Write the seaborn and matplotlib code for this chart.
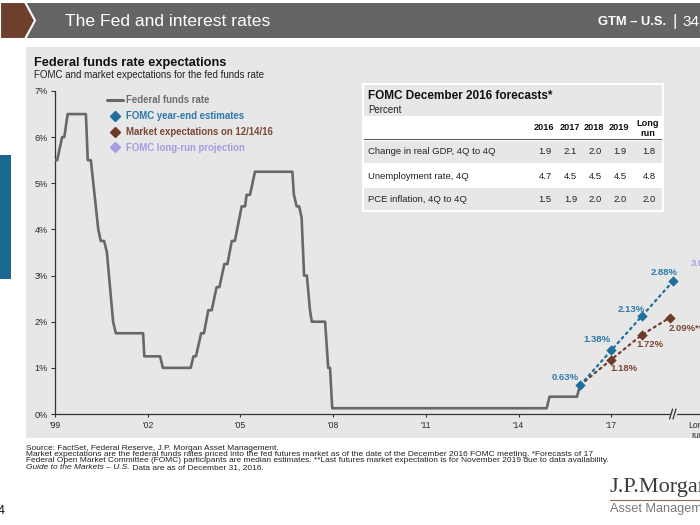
import matplotlib
matplotlib.use("Agg")
import numpy as np
import pandas as pd
import seaborn as sns
import matplotlib.pyplot as plt
from matplotlib.patches import Rectangle, Polygon
from matplotlib.lines import Line2D

# ---------------- data ----------------
ffr_t = [1999.95, 2000.02, 2000.18, 2000.25, 2000.36, 2000.95, 2001.01, 2001.11, 2001.35,
         2001.43, 2001.54, 2001.63, 2001.83, 2001.92, 2002.80, 2002.84, 2003.35, 2003.44,
         2004.34, 2004.43, 2004.51, 2004.68, 2004.77, 2004.91, 2005.02, 2005.18, 2005.27,
         2005.43, 2005.53, 2005.67, 2005.77, 2005.99, 2006.10, 2006.15, 2006.26, 2006.42,
         2007.63, 2007.68, 2007.77, 2007.85, 2007.93, 2008.01, 2008.10, 2008.20, 2008.26,
         2008.69, 2008.79, 2008.85, 2008.92, 2015.86, 2015.95, 2016.84, 2016.94]
ffr_v = [5.5, 5.5, 6.0, 6.0, 6.5, 6.5, 5.5, 5.5, 4.0,
         3.75, 3.75, 3.5, 2.0, 1.75, 1.75, 1.25, 1.25, 1.0,
         1.0, 1.25, 1.25, 1.75, 1.75, 2.25, 2.25, 2.75, 2.75,
         3.25, 3.25, 3.75, 3.75, 4.5, 4.5, 4.75, 4.75, 5.25,
         5.25, 4.75, 4.5, 4.5, 4.25, 3.0, 3.0, 2.25, 2.0,
         2.0, 1.0, 1.0, 0.125, 0.125, 0.375, 0.375, 0.625]

fomc_t = [2016.95, 2017.95, 2018.95, 2019.95]
fomc_v = [0.63, 1.38, 2.13, 2.88]
mkt_t = [2016.95, 2017.95, 2018.95, 2019.85]
mkt_v = [0.63, 1.18, 1.72, 2.09]
lr_t = [2021.2]
lr_v = [3.00]

fomc_labels = ["0.63%", "1.38%", "2.13%", "2.88%"]
mkt_labels = ["1.18%", "1.72%", "2.09%**"]
lr_labels = ["3.00%"]

xtick_pos = [1999.95, 2002.95, 2005.95, 2008.95, 2011.95, 2014.95, 2017.95, 2020.75]
xtick_labels = ["'99", "'02", "'05", "'08", "'11", "'14", "'17", "Long\nrun"]
ytick_pos = [0, 1, 2, 3, 4, 5, 6, 7]
ytick_labels = ["0%", "1%", "2%", "3%", "4%", "5%", "6%", "7%"]

table_cols = ["2016", "2017", "2018", "2019", "Long\nrun"]
table_rows = ["Change in real GDP, 4Q to 4Q", "Unemployment rate, 4Q", "PCE inflation, 4Q to 4Q"]
gdp = [1.9, 2.1, 2.0, 1.9, 1.8]
unemp = [4.7, 4.5, 4.5, 4.5, 4.8]
pce = [1.5, 1.9, 2.0, 2.0, 2.0]

legend_labels = ["Federal funds rate", "FOMC year-end estimates",
                 "Market expectations on 12/14/16", "FOMC long-run projection"]

footnotes = [
    "Source: FactSet, Federal Reserve, J.P. Morgan Asset Management.",
    "Market expectations are the federal funds rates priced into the fed futures market as of the date of the December 2016 FOMC meeting. *Forecasts of 17",
    "Federal Open Market Committee (FOMC) participants are median estimates. **Last futures market expectation is for November 2019 due to data availability.",
]
footnote_italic = "Guide to the Markets \u2013 U.S."
footnote_tail = " Data are as of December 31, 2016."

# ---------------- style ----------------
sns.set_theme(style="white")
plt.rcParams["font.family"] = ["Liberation Sans", "DejaVu Sans"]

GRAY = "#686868"
BLUE = "#1f6e9c"
BLUE_T = "#2c78ab"
BROWN = "#6e3b29"
BROWN_T = "#7b4632"
PURPLE = "#a49de2"
PANEL = "#e7e7e7"

W, H = 700, 525
fig = plt.figure(figsize=(7, 5.25), dpi=100, facecolor="white")


def fx(x):
    return x / W


def fy(y):
    return 1 - y / H


def rect(x0, y0, x1, y1, color, z=1, **kw):
    fig.add_artist(Rectangle((fx(x0), fy(y1)), (x1 - x0) / W, (y1 - y0) / H,
                             transform=fig.transFigure, facecolor=color,
                             edgecolor="none", zorder=z, **kw))


def ftext(x, y, s, **kw):
    kw.setdefault("va", "center")
    return fig.text(fx(x), fy(y), s, **kw)


# header
rect(26, 3, 700, 38, "#656565", z=-2)
fig.add_artist(Polygon([(fx(0), fy(2)), (fx(25), fy(2)), (fx(35), fy(20.5)),
                        (fx(25), fy(39)), (fx(0), fy(39))], closed=True,
                       transform=fig.transFigure, facecolor="#6e3f2d",
                       edgecolor="white", lw=1.5, zorder=-1))
ftext(65, 21.5, "The Fed and interest rates", color="white", fontsize=12.6)
ftext(598, 22, "GTM \u2013 U.S.", color="white", fontsize=9.3, weight="bold")
ftext(673, 21.5, "|", color="white", fontsize=12)
ftext(682, 22, "34", color="white", fontsize=11)

# panel
rect(26, 47, 700, 438, PANEL, z=-2)
rect(0, 155, 11, 279, "#1a6791", z=-1)
ftext(34, 63, "Federal funds rate expectations", fontsize=9.2, weight="bold", color="#111111")
ftext(34, 75, "FOMC and market expectations for the fed funds rate", fontsize=7, color="#222222")

# ---------------- axes ----------------
ax = fig.add_axes([fx(55), fy(414), (721 - 55) / W, (414 - 91) / H])
ax.set_facecolor("none")

ffr_df = pd.DataFrame({"t": ffr_t, "rate": ffr_v})
sns.lineplot(data=ffr_df, x="t", y="rate", ax=ax, color=GRAY, lw=1.9,
             sort=False, estimator=None, zorder=3)

fomc_df = pd.DataFrame({"t": fomc_t, "rate": fomc_v})
mkt_df = pd.DataFrame({"t": mkt_t, "rate": mkt_v})
lr_df = pd.DataFrame({"t": lr_t, "rate": lr_v})

sns.lineplot(data=mkt_df, x="t", y="rate", ax=ax, color=BROWN, lw=1.6,
             linestyle=(0, (0.9, 1.9)), dash_capstyle="round", estimator=None, zorder=4)
sns.lineplot(data=fomc_df, x="t", y="rate", ax=ax, color=BLUE, lw=1.6,
             linestyle=(0, (0.9, 1.9)), dash_capstyle="round", estimator=None, zorder=5)
sns.scatterplot(data=mkt_df.iloc[1:], x="t", y="rate", ax=ax, color=BROWN, marker="D",
                s=28, edgecolor=BROWN, linewidth=0, zorder=6, clip_on=False)
sns.scatterplot(data=fomc_df, x="t", y="rate", ax=ax, color=BLUE, marker="D",
                s=28, edgecolor=BLUE, linewidth=0, zorder=7, clip_on=False)
sns.scatterplot(data=lr_df, x="t", y="rate", ax=ax, color=PURPLE, marker="D",
                s=28, linewidth=0, zorder=7, clip_on=False)

fomc_off = [(-2, 7), (-14, 11), (-11, 6), (-9, 9)]
for t, v, lab, (dx, dy) in zip(fomc_t, fomc_v, fomc_labels, fomc_off):
    ha = "right" if lab == fomc_labels[0] else "center"
    ax.annotate(lab, (t, v), xytext=(dx, dy), textcoords="offset pixels",
                ha=ha, va="center", fontsize=6.8, weight="bold", color=BLUE_T)
mkt_off = [(13, -9), (8, -10), (-1, -11)]
for t, v, lab, (dx, dy) in zip(mkt_t[1:], mkt_v[1:], mkt_labels, mkt_off):
    ha = "left" if lab.endswith("**") else "center"
    ax.annotate(lab, (t, v), xytext=(dx, dy), textcoords="offset pixels",
                ha=ha, va="center", fontsize=6.8, weight="bold", color=BROWN_T,
                annotation_clip=False)
for t, v, lab in zip(lr_t, lr_v, lr_labels):
    ax.annotate(lab, (t, v), xytext=(-21, 12), textcoords="offset pixels",
                ha="left", va="center", fontsize=6.8, weight="bold", color=PURPLE,
                annotation_clip=False)

ax.set_xlim(1999.95, 2021.5)
ax.set_ylim(0, 7)
ax.set_xticks(xtick_pos)
ax.set_xticklabels(xtick_labels)
ax.set_yticks(ytick_pos)
ax.set_yticklabels(ytick_labels)
ax.set_xlabel("")
ax.set_ylabel("")
for s in ["top", "right"]:
    ax.spines[s].set_visible(False)
for s in ["left", "bottom"]:
    ax.spines[s].set_color("#333333")
    ax.spines[s].set_linewidth(0.9)
ax.tick_params(axis="y", direction="out", length=3, width=0.8, color="#333333",
               pad=2.2, labelsize=6.6, labelcolor="#2a2a2a", left=True)
ax.tick_params(axis="x", direction="out", length=2, width=0.8, color="#333333",
               pad=3, labelsize=6.2, labelcolor="#2a2a2a", bottom=True)
ax.xaxis.get_major_ticks()[-1].tick1line.set_visible(False)

# axis break
px_x = 1 / 30.9
px_y = 7 / 323
ax.plot([2019.90, 2020.01], [0, 0], color=PANEL, lw=2.5, clip_on=False, zorder=8)
for bx in [2019.885, 2019.995]:
    ax.plot([bx - 1.5 * px_x, bx + 1.5 * px_x], [-5 * px_y, 5 * px_y],
            color="#333333", lw=0.9, clip_on=False, zorder=9)

# legend
handles = [Line2D([0], [0], color=GRAY, lw=2.2),
           Line2D([0], [0], marker="D", ls="none", color=BLUE, ms=5.5),
           Line2D([0], [0], marker="D", ls="none", color=BROWN, ms=5.5),
           Line2D([0], [0], marker="D", ls="none", color=PURPLE, ms=5.5)]
leg = ax.legend(handles, legend_labels, loc="upper left",
                bbox_to_anchor=(fx(107), fy(95)), bbox_transform=fig.transFigure,
                frameon=False, prop={"weight": "bold", "size": 6.9},
                handlelength=1.7, handletextpad=0.3, labelspacing=0.62,
                borderpad=0, borderaxespad=0)
for txt, c in zip(leg.get_texts(), ["#6d6d6d", BLUE_T, BROWN_T, PURPLE]):
    txt.set_color(c)

# ---------------- forecast table ----------------
rect(362, 83, 664, 212, "white", z=2)
rect(364, 85, 662, 116, PANEL, z=3)
rect(364, 141, 662, 163, PANEL, z=3)
rect(364, 188, 662, 210, PANEL, z=3)
rect(364, 139, 662, 140.3, "#555555", z=3)
ftext(368, 96, "FOMC December 2016 forecasts*", fontsize=8.5, weight="bold", color="#111111", zorder=4)
ftext(368, 109.5, "Percent", fontsize=7, color="#222222", zorder=4)
col_x = [544, 569.5, 594, 619, 648]
for cx, lab in zip(col_x, table_cols):
    if "\n" in lab:
        a, b = lab.split("\n")
        ftext(cx, 123.5, a, fontsize=6.6, weight="bold", ha="center", color="#111111", zorder=4)
        ftext(cx, 133.5, b, fontsize=6.6, weight="bold", ha="center", color="#111111", zorder=4)
    else:
        ftext(cx, 128, lab, fontsize=6.6, weight="bold", ha="center", color="#111111", zorder=4)
row_y = [152, 176.5, 199.5]
for ry, rlab, vals in zip(row_y, table_rows, [gdp, unemp, pce]):
    ftext(368, ry, rlab, fontsize=6.8, color="#222222", zorder=4)
    for cx, v in zip(col_x, vals):
        ftext(cx + 1, ry, f"{v:.1f}", fontsize=6.8, ha="center", color="#222222", zorder=4)

# ---------------- footnotes ----------------
FN = 6.05
for i, line in enumerate(footnotes):
    ftext(26, 448.5 + i * 6.2, line, fontsize=FN, color="#222222")
it = ftext(26, 448.5 + 3 * 6.2, footnote_italic, fontsize=FN, style="italic", color="#222222")
renderer = fig.canvas.get_renderer()
bb = it.get_window_extent(renderer=renderer)
ftext(bb.x1, 448.5 + 3 * 6.2, footnote_tail, fontsize=FN, color="#222222")

# logo & page number
ftext(609, 487.5, "J.P.Morgan", fontsize=16, color="#3b3b3b",
      family=["Liberation Serif", "DejaVu Serif"])
fig.add_artist(Line2D([fx(610), fx(700)], [fy(500), fy(500)], transform=fig.transFigure,
                      color="#8a6a5a", lw=0.8))
ftext(610, 509, "Asset Management", fontsize=9.2, color="#7a7a7a")
ftext(-2, 511, "4", fontsize=9, color="#111111")

fig.savefig("out.png", dpi=100, facecolor="white")
